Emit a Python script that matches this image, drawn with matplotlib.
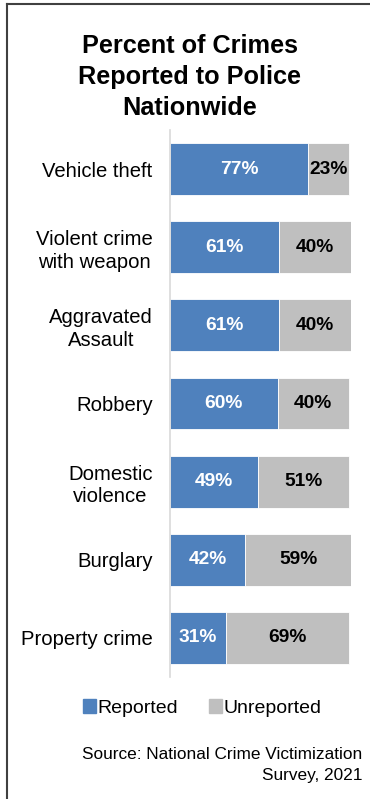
import matplotlib
matplotlib.use('Agg')
import matplotlib.pyplot as plt
from matplotlib.lines import Line2D
import numpy as np

categories = ['Vehicle theft', 'Violent crime\nwith weapon', 'Aggravated\nAssault',
              'Robbery', 'Domestic\nviolence', 'Burglary', 'Property crime']
reported = [77, 61, 61, 60, 49, 42, 31]
unreported = [23, 40, 40, 40, 51, 59, 69]

blue = '#4F81BD'
grey = '#BFBFBF'

plt.rcParams['font.family'] = ['Liberation Sans', 'DejaVu Sans']

fig = plt.figure(figsize=(3.70, 7.99), dpi=100)
ax = fig.add_axes([170/370, 1-677/799, 181/370, 547/799])

y = np.arange(len(categories))
h = 0.665
ax.barh(y, reported, height=h, color=blue, edgecolor='white', linewidth=0.6)
ax.barh(y, unreported, left=reported, height=h, color=grey, edgecolor='white', linewidth=0.6)

for i in range(len(categories)):
    ax.text(reported[i]/2, y[i], f'{reported[i]}%', ha='center', va='center',
            color='white', fontsize=13.8, fontweight='bold')
    ax.text(reported[i] + unreported[i]/2, y[i], f'{unreported[i]}%', ha='center', va='center',
            color='black', fontsize=13.8, fontweight='bold')

ax.set_xlim(0, 101)
ax.set_ylim(len(categories)-0.5, -0.5)
ax.set_yticks(y)
ax.set_yticklabels(categories, fontsize=14.6, multialignment='center', linespacing=1.25)
ax.tick_params(axis='y', length=0, pad=12.5)
ax.set_xticks([])
for s in ['top', 'right', 'bottom']:
    ax.spines[s].set_visible(False)
ax.spines['left'].set_color('#D9D9D9')
ax.spines['left'].set_linewidth(1.2)

fig.text(190/370, 1-77/799, 'Percent of Crimes\nReported to Police\nNationwide', ha='center', va='center',
         fontsize=18.2, fontweight='bold', linespacing=1.37)

handles = [plt.Rectangle((0, 0), 1, 1, color=blue), plt.Rectangle((0, 0), 1, 1, color=grey)]
fig.legend(handles, ['Reported', 'Unreported'], loc='center', bbox_to_anchor=(202/370, 1-708/799),
           ncol=2, frameon=False, fontsize=14, handlelength=0.7, handleheight=0.7,
           handletextpad=0.05, columnspacing=1.6)

fig.text(362/370, 1-765/799, 'Source: National Crime Victimization\nSurvey, 2021', ha='right', va='center',
         fontsize=12.4, multialignment='right', linespacing=1.45)

# frame on left and top
fig.add_artist(Line2D([7/370, 7/370], [0, 1-4/799], color='#404040', lw=1.5, transform=fig.transFigure))
fig.add_artist(Line2D([7/370, 1], [1-4/799, 1-4/799], color='#404040', lw=1.5, transform=fig.transFigure))

fig.savefig('out.png', dpi=100)
